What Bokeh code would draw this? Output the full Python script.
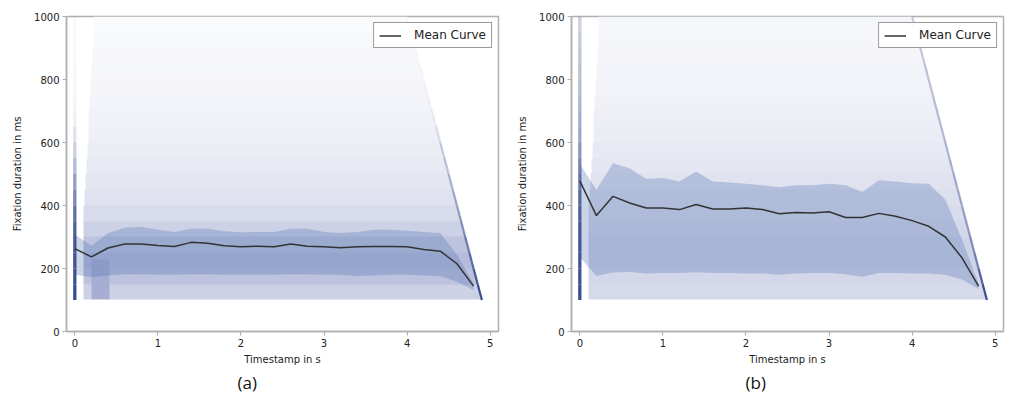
import numpy as np
from bokeh.plotting import figure
from bokeh.layouts import row
from bokeh.models import (ColumnDataSource, LinearColorMapper, Title, Range1d,
                          Legend, LegendItem)
from bokeh.embed import file_html
from bokeh.resources import INLINE

# ---------------- data ----------------
x_ticks = [0, 1, 2, 3, 4, 5]
y_ticks = [0, 200, 400, 600, 800, 1000]

# time grid of the mean curve / band
mean_t = [0.0, 0.2, 0.4, 0.6, 0.8, 1.0, 1.2, 1.4, 1.6, 1.8, 2.0, 2.2, 2.4,
          2.6, 2.8, 3.0, 3.2, 3.4, 3.6, 3.8, 4.0, 4.2, 4.4, 4.6, 4.8]

# panel (a)
mean_a = [263, 237, 265, 278, 278, 273, 270, 283, 280, 272, 269, 271, 269,
          278, 271, 269, 266, 269, 270, 270, 269, 260, 255, 215, 144]
upper_a = [308, 272, 313, 329, 332, 323, 316, 326, 326, 318, 315, 316, 316,
           326, 326, 316, 313, 316, 323, 323, 320, 316, 313, 244, 152]
lower_a = [181, 172, 178, 182, 182, 180, 180, 182, 182, 180, 180, 180, 180,
           182, 182, 180, 180, 176, 178, 180, 180, 178, 176, 158, 132]

# panel (b)
mean_b = [478, 368, 429, 408, 392, 392, 387, 403, 389, 389, 392, 387, 374,
          378, 376, 380, 362, 362, 375, 366, 352, 334, 300, 234, 144]
upper_b = [532, 450, 534, 518, 484, 487, 476, 508, 476, 473, 469, 464, 458,
           464, 464, 469, 464, 443, 480, 476, 471, 469, 418, 292, 152]
lower_b = [236, 176, 187, 189, 184, 186, 186, 188, 186, 186, 184, 184, 180,
           184, 186, 186, 182, 174, 186, 186, 184, 184, 180, 165, 135]

# scatter cloud, summarised as darkness per 50 ms duration band (100..1000 ms)
band_edges = [100, 150, 200, 250, 300, 350, 400, 450, 500, 550, 600, 650,
              700, 750, 800, 850, 900, 950, 1000]
cloud_a = [0.24, 0.32, 0.35, 0.31, 0.24, 0.19, 0.15, 0.13, 0.11, 0.095, 0.08,
           0.07, 0.06, 0.055, 0.045, 0.04, 0.035, 0.03]
cloud_b = [0.20, 0.21, 0.23, 0.23, 0.21, 0.19, 0.17, 0.15, 0.13, 0.11, 0.095,
           0.085, 0.075, 0.065, 0.06, 0.055, 0.05, 0.045]
# first timestamp where the cloud starts, per duration band
start_a = [0.10, 0.10, 0.10, 0.10, 0.10, 0.11, 0.12, 0.13, 0.14, 0.15, 0.16,
           0.17, 0.18, 0.19, 0.20, 0.21, 0.22, 0.23]
start_b = [0.10, 0.10, 0.10, 0.10, 0.10, 0.11, 0.12, 0.13, 0.14, 0.15, 0.16,
           0.17, 0.18, 0.19, 0.20, 0.21, 0.22, 0.23]
# recording end: timestamp + duration <= end_time
end_time = 5.0
# dense early cluster in (a): [t0, t1, d0, d1, darkness]
cluster_a = [0.20, 0.42, 100, 230, 0.42]

# fixations at t = 0 (vertical streak) and at the recording end (diagonal)
zero_a = [0.92, 0.90, 0.88, 0.86, 0.82, 0.74, 0.62, 0.50, 0.36, 0.25, 0.15,
          0.08, 0.05, 0.04, 0.04, 0.03, 0.03, 0.03]
zero_b = [0.92, 0.90, 0.88, 0.86, 0.84, 0.80, 0.74, 0.68, 0.62, 0.54, 0.46,
          0.42, 0.38, 0.35, 0.32, 0.30, 0.28, 0.25]
diag_a = [0.92, 0.85, 0.72, 0.65, 0.55, 0.48, 0.42, 0.36, 0.30, 0.24, 0.15,
          0.08, 0.04, 0.03, 0.03, 0.02, 0.02, 0.02]
diag_b = [0.90, 0.80, 0.62, 0.55, 0.48, 0.45, 0.42, 0.40, 0.38, 0.36, 0.34,
          0.33, 0.32, 0.30, 0.30, 0.28, 0.28, 0.26]

# ---------------- styling ----------------
DOT = "#2e3f96"
STREAK = "#2a3f88"
BAND = "#4c72b0"
FRAME = "#b0b0b0"
FONT = "DejaVu Sans"


def palette(n=256):
    r0, g0, b0 = 255, 255, 255
    r1, g1, b1 = int(DOT[1:3], 16), int(DOT[3:5], 16), int(DOT[5:7], 16)
    out = []
    for i in range(n):
        f = i / (n - 1)
        out.append("#%02x%02x%02x" % (round(r0 + (r1 - r0) * f),
                                      round(g0 + (g1 - g0) * f),
                                      round(b0 + (b1 - b0) * f)))
    return out


def cloud_image(cloud, start, cluster=None):
    xs = np.arange(-0.1, 5.1, 0.01) + 0.005
    ys = np.arange(0, 1000, 5) + 2.5
    img = np.full((len(ys), len(xs)), np.nan)
    edges = np.array(band_edges)
    for j, yv in enumerate(ys):
        if yv < edges[0] or yv > edges[-1]:
            continue
        k = min(np.searchsorted(edges, yv, side="right") - 1, len(cloud) - 1)
        x_end = end_time - yv / 1000.0
        m = (xs >= start[k]) & (xs <= x_end)
        img[j, m] = cloud[k]
        if cluster is not None and cluster[2] <= yv <= cluster[3]:
            mc = m & (xs >= cluster[0]) & (xs <= cluster[1])
            img[j, mc] = cluster[4]
    return img


def make_panel(tag, mean, upper, lower, cloud, start, zero, diag, cluster,
               width, left_border, right_border, title_offset):
    p = figure(width=width, height=394, output_backend="svg",
               toolbar_location=None, x_range=Range1d(-0.1, 5.1),
               y_range=Range1d(0, 1000), min_border_left=left_border,
               min_border_right=right_border, min_border_top=16,
               min_border_bottom=62)
    p.grid.visible = False
    p.outline_line_color = FRAME
    p.outline_line_width = 1.5
    p.background_fill_color = "white"
    p.border_fill_color = "white"

    cm = LinearColorMapper(palette=palette(), low=0, high=1,
                           nan_color=(255, 255, 255, 0))
    p.image(image=[cloud_image(cloud, start, cluster)], x=-0.1, y=0,
            dw=5.2, dh=1000, color_mapper=cm)

    # mean +/- std band
    p.varea(x=mean_t, y1=lower, y2=upper, fill_color=BAND, fill_alpha=0.3)

    # vertical streak at t=0 and diagonal at recording end
    y0 = band_edges[:-1]
    y1 = band_edges[1:]
    zs = ColumnDataSource(dict(x0=[0.0] * len(y0), x1=[0.0] * len(y0),
                               y0=y0, y1=y1, a=zero))
    p.segment(x0="x0", y0="y0", x1="x1", y1="y1", source=zs,
              line_color=STREAK, line_alpha="a", line_width=3.3)
    ds = ColumnDataSource(dict(x0=[end_time - v / 1000.0 for v in y0],
                               x1=[end_time - v / 1000.0 for v in y1],
                               y0=y0, y1=y1, a=diag))
    p.segment(x0="x0", y0="y0", x1="x1", y1="y1", source=ds,
              line_color=STREAK, line_alpha="a", line_width=2.2)

    mr = p.line(mean_t, mean, line_color="#333333", line_width=1.5)

    leg = Legend(items=[LegendItem(label="Mean Curve", renderers=[mr])],
                 location="top_right")
    leg.border_line_color = "#333333"
    leg.border_line_width = 1.2
    leg.background_fill_alpha = 1.0
    leg.label_text_font = FONT
    leg.label_text_font_size = "12px"
    leg.label_text_color = "#222222"
    leg.padding = 5
    leg.margin = 6
    leg.spacing = 0
    leg.glyph_width = 22
    leg.glyph_height = 13
    leg.label_height = 13
    leg.label_standoff = 13
    p.add_layout(leg)

    for ax in (p.xaxis, p.yaxis):
        ax.axis_line_color = FRAME
        ax.axis_line_width = 1.5
        ax.major_tick_line_color = FRAME
        ax.major_tick_line_width = 1.2
        ax.major_tick_out = 4
        ax.major_tick_in = 0
        ax.minor_tick_line_color = None
        ax.major_label_text_font = FONT
        ax.major_label_text_font_size = "10px"
        ax.major_label_text_color = "#222222"
        ax.axis_label_text_font = FONT
        ax.axis_label_text_font_size = "10px"
        ax.axis_label_text_font_style = "normal"
        ax.axis_label_text_color = "#222222"
    p.xaxis.ticker = x_ticks
    p.yaxis.ticker = y_ticks
    p.xaxis.axis_label = "Timestamp in s"
    p.yaxis.axis_label = "Fixation duration in ms"
    p.xaxis.major_label_standoff = 3
    p.yaxis.major_label_standoff = 3
    p.xaxis.axis_label_standoff = 4
    p.yaxis.axis_label_standoff = 8

    t = Title(text=tag, align="left", offset=title_offset,
              text_font="Open Sans", text_font_size="17px",
              text_font_style="normal", text_color="#111111", standoff=2)
    p.add_layout(t, "below")
    return p


pa = make_panel("(a)", mean_a, upper_a, lower_a, cloud_a, start_a, zero_a,
                diag_a, cluster_a, 513, 66, 15, 171)
pb = make_panel("(b)", mean_b, upper_b, lower_b, cloud_b, start_b, zero_b,
                diag_b, None, 503, 58, 13, 174)

layout = row(pa, pb)
open("out.html", "w").write(file_html(layout, INLINE))
